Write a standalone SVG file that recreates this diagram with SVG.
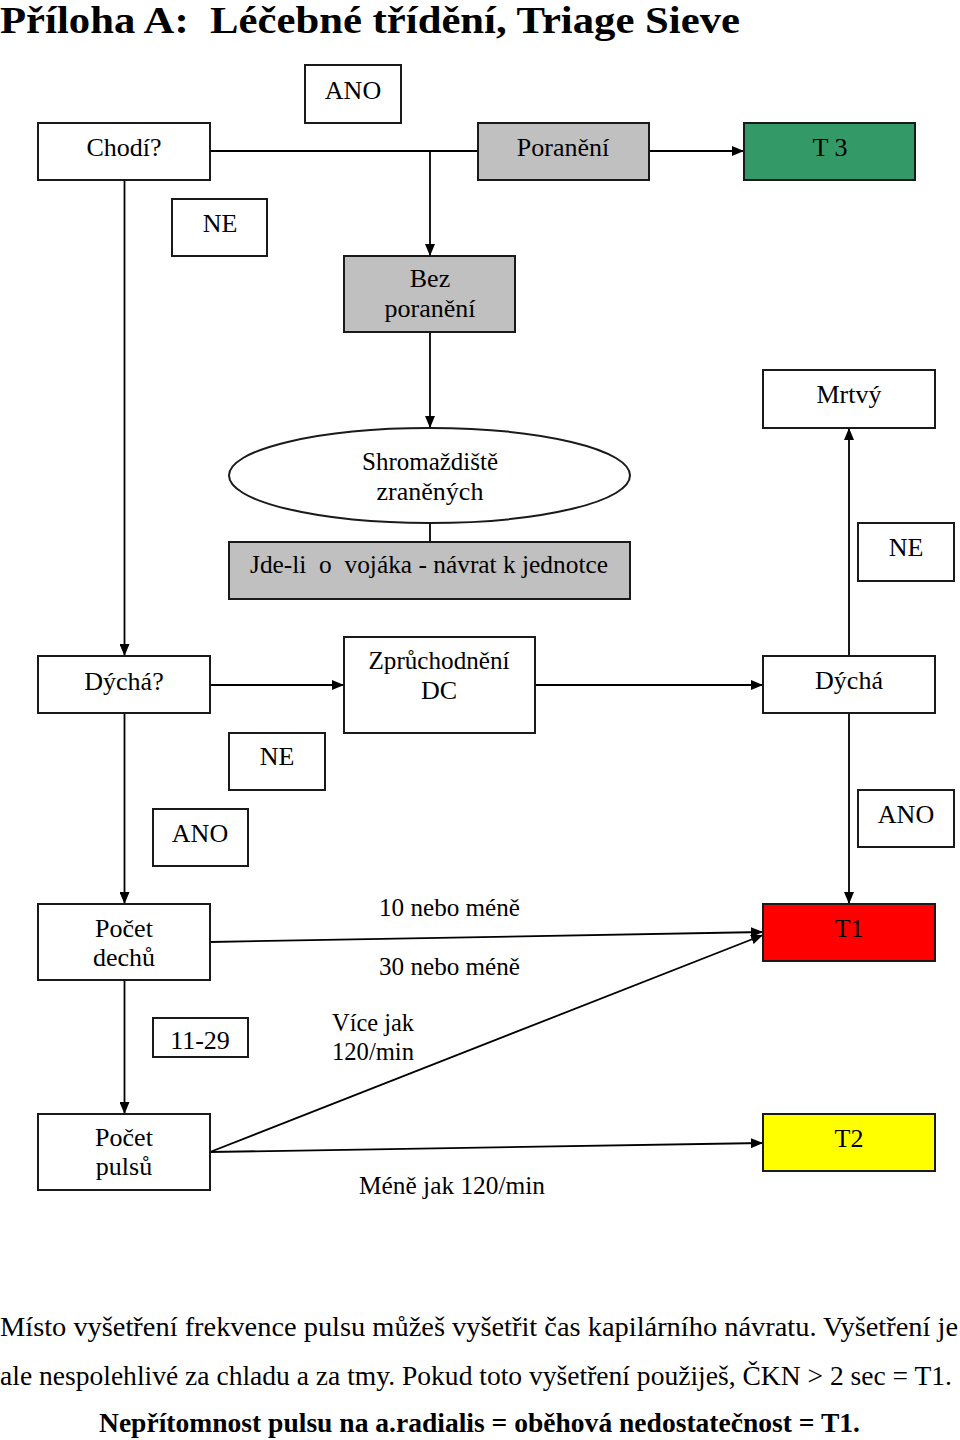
<svg xmlns="http://www.w3.org/2000/svg" width="960" height="1440" viewBox="0 0 960 1440">
<defs>
<marker id="arr" viewBox="0 0 12 10" refX="12" refY="5" markerWidth="12" markerHeight="10" markerUnits="userSpaceOnUse" orient="auto">
<path d="M0,0 L12,5 L0,10 z" fill="#000"/>
</marker>
<style>
.bx{fill:#fff;stroke:#1a1a1a;stroke-width:2}
.gr{fill:#c0c0c0;stroke:#1a1a1a;stroke-width:2}
.t{font-family:"Liberation Serif","Times New Roman",serif;font-size:26px;fill:#000;text-anchor:middle}
.tl{font-family:"Liberation Serif","Times New Roman",serif;font-size:26px;fill:#000}
.c{fill:none;stroke:#000;stroke-width:1.8}
.ca{fill:none;stroke:#000;stroke-width:1.8;marker-end:url(#arr)}
.body{font-family:"Liberation Serif","Times New Roman",serif;font-size:28px;fill:#000}
</style>
</defs>
<rect width="960" height="1440" fill="#fff"/>
<text x="0" y="33" font-family="'Liberation Serif','Times New Roman',serif" font-weight="bold" font-size="38" textLength="740" lengthAdjust="spacingAndGlyphs" xml:space="preserve">Příloha A:  Léčebné třídění, Triage Sieve</text>

<g id="connectors">
<line class="c" x1="210" y1="151" x2="478" y2="151"/>
<line class="ca" x1="430" y1="151" x2="430" y2="256"/>
<line class="ca" x1="649" y1="151" x2="744" y2="151"/>
<line class="ca" x1="430" y1="332" x2="430" y2="428"/>
<line class="c" x1="430" y1="522" x2="430" y2="542"/>
<line class="ca" x1="124.5" y1="180" x2="124.5" y2="656"/>
<line class="ca" x1="210" y1="685" x2="344" y2="685"/>
<line class="ca" x1="535" y1="685" x2="763" y2="685"/>
<line class="ca" x1="849" y1="656" x2="849" y2="428"/>
<line class="ca" x1="849" y1="713" x2="849" y2="904"/>
<line class="ca" x1="124.5" y1="713" x2="124.5" y2="904"/>
<line class="ca" x1="124.5" y1="980" x2="124.5" y2="1114"/>
<line class="ca" x1="210" y1="942" x2="763" y2="932"/>
<line class="ca" x1="210" y1="1152" x2="763" y2="935"/>
<line class="ca" x1="210" y1="1152" x2="763" y2="1143"/>
</g>

<g id="ano-top"><rect class="bx" x="305" y="65" width="96" height="58"/><text class="t" x="353" y="99">ANO</text></g>
<g id="chodi"><rect class="bx" x="38" y="123" width="172" height="57"/><text class="t" x="124" y="156">Chodí?</text></g>
<g id="poraneni"><rect class="gr" x="478" y="123" width="171" height="57"/><text class="t" x="563" y="156">Poranění</text></g>
<g id="t3"><rect x="744" y="123" width="171" height="57" fill="#339966" stroke="#1a1a1a" stroke-width="2"/><text class="t" x="830" y="156">T 3</text></g>
<g id="ne-top"><rect class="bx" x="172" y="199" width="95" height="57"/><text class="t" x="220" y="232">NE</text></g>
<g id="bez"><rect class="gr" x="344" y="256" width="171" height="76"/><text class="t" x="430" y="287">Bez</text><text class="t" x="430" y="317">poranění</text></g>
<g id="shromazdiste"><ellipse cx="429.5" cy="475.5" rx="200.5" ry="47.5" fill="#fff" stroke="#1a1a1a" stroke-width="2"/><text class="t" x="430" y="470" textLength="136" lengthAdjust="spacingAndGlyphs">Shromaždiště</text><text class="t" x="430" y="500">zraněných</text></g>
<g id="jdeli"><rect class="gr" x="229" y="542" width="401" height="57"/><text class="tl" x="250" y="573" textLength="358" lengthAdjust="spacingAndGlyphs" xml:space="preserve">Jde-li  o  vojáka - návrat k jednotce</text></g>
<g id="mrtvy"><rect class="bx" x="763" y="370" width="172" height="58"/><text class="t" x="849" y="403">Mrtvý</text></g>
<g id="ne-right"><rect class="bx" x="858" y="523" width="96" height="58"/><text class="t" x="906" y="556">NE</text></g>
<g id="dycha-q"><rect class="bx" x="38" y="656" width="172" height="57"/><text class="t" x="124" y="690">Dýchá?</text></g>
<g id="zpruchodneni"><rect class="bx" x="344" y="637" width="191" height="96"/><text class="t" x="439" y="669" textLength="141" lengthAdjust="spacingAndGlyphs">Zprůchodnění</text><text class="t" x="439" y="699">DC</text></g>
<g id="dycha"><rect class="bx" x="763" y="656" width="172" height="57"/><text class="t" x="849" y="689">Dýchá</text></g>
<g id="ne-mid"><rect class="bx" x="229" y="733" width="96" height="57"/><text class="t" x="277" y="765">NE</text></g>
<g id="ano-left"><rect class="bx" x="153" y="809" width="95" height="57"/><text class="t" x="200" y="842">ANO</text></g>
<g id="ano-right"><rect class="bx" x="858" y="790" width="96" height="57"/><text class="t" x="906" y="823">ANO</text></g>
<g id="pocet-dechu"><rect class="bx" x="38" y="904" width="172" height="76"/><text class="t" x="124" y="937">Počet</text><text class="t" x="124" y="966">dechů</text></g>
<g id="t1"><rect x="763" y="904" width="172" height="57" fill="#ff0000" stroke="#1a1a1a" stroke-width="2"/><text class="t" x="849" y="937">T1</text></g>
<g id="range"><rect class="bx" x="153" y="1018" width="95" height="39"/><text class="t" x="200" y="1049">11-29</text></g>
<g id="pocet-pulsu"><rect class="bx" x="38" y="1114" width="172" height="76"/><text class="t" x="124" y="1146">Počet</text><text class="t" x="124" y="1175">pulsů</text></g>
<g id="t2"><rect x="763" y="1114" width="172" height="57" fill="#ffff00" stroke="#1a1a1a" stroke-width="2"/><text class="t" x="849" y="1147">T2</text></g>

<g id="labels">
<text class="tl" x="379" y="916" textLength="141" lengthAdjust="spacingAndGlyphs">10 nebo méně</text>
<text class="tl" x="379" y="975" textLength="141" lengthAdjust="spacingAndGlyphs">30 nebo méně</text>
<text class="tl" x="332" y="1031" textLength="82" lengthAdjust="spacingAndGlyphs">Více jak</text>
<text class="tl" x="332" y="1060" textLength="82" lengthAdjust="spacingAndGlyphs">120/min</text>
<text class="tl" x="359" y="1194" textLength="186" lengthAdjust="spacingAndGlyphs">Méně jak 120/min</text>
</g>

<g id="notes">
<text class="body" x="0" y="1336" textLength="958" lengthAdjust="spacingAndGlyphs">Místo vyšetření frekvence pulsu můžeš vyšetřit čas kapilárního návratu. Vyšetření je</text>
<text class="body" x="0" y="1385" textLength="952" lengthAdjust="spacingAndGlyphs">ale nespolehlivé za chladu a za tmy. Pokud toto vyšetření použiješ, ČKN &gt; 2 sec = T1.</text>
<text class="body" x="99" y="1432" font-weight="bold" textLength="761" lengthAdjust="spacingAndGlyphs">Nepřítomnost pulsu na a.radialis = oběhová nedostatečnost = T1.</text>
</g>
</svg>
